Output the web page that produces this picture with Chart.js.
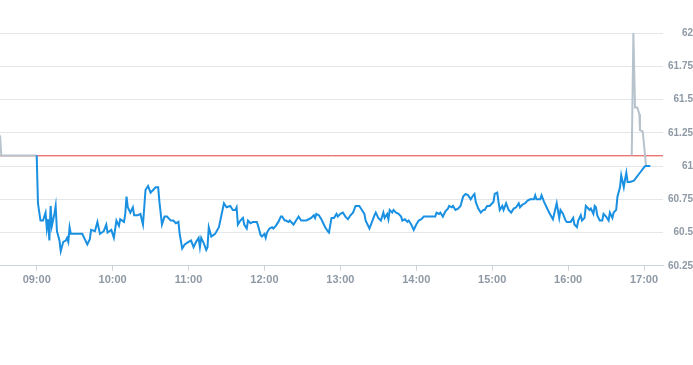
<!DOCTYPE html>
<html>
<head>
<meta charset="utf-8">
<script src="https://cdn.jsdelivr.net/npm/chart.js@4/dist/chart.umd.min.js"></script>
<style>
  html, body { margin: 0; padding: 0; background: #fff; }
  #wrap { position: relative; width: 693px; height: 365px; }
</style>
</head>
<body>
<div id="wrap"><canvas id="priceChart"></canvas></div>
<script>
// Minutes counted from the 09:00 open
const hourTicks = [0, 60, 120, 180, 240, 300, 360, 420, 480];
const hourLabels = ["09:00", "10:00", "11:00", "12:00", "13:00", "14:00", "15:00", "16:00", "17:00"];
const yTicks = [60.25, 60.5, 60.75, 61, 61.25, 61.5, 61.75, 62];

// Reference (previous close) level
const refLevel = 61.077;

// Regular session price
const blueMin = [
  0, 1, 3, 5, 7, 8, 9, 10, 11, 12, 14, 15, 16, 18, 19, 21, 23, 24, 25, 26, 27, 36, 38, 40, 42, 43, 46, 48, 50, 53,
  55, 56, 59, 61, 63, 65, 66, 69, 70, 71, 72, 74, 76, 77, 80, 82, 84, 86, 88, 90, 92, 94, 96, 97, 99, 101, 103, 106, 108, 110,
  112, 113, 115, 117, 120, 122, 124, 126, 128, 129, 130, 132, 134, 135, 136, 138, 141, 144, 146, 148, 150, 153, 155, 157, 158, 159,
  161, 163, 164, 166, 167, 169, 171, 174, 175, 177, 178, 180, 181, 182, 184, 186, 187, 189, 191, 193, 194, 196, 197, 199, 200, 202,
  203, 205, 207, 209, 211, 213, 215, 217, 219, 220, 221, 223, 225, 228, 230, 231, 233, 235, 237, 238, 240, 242, 244, 246, 248, 250,
  252, 253, 255, 257, 259, 260, 263, 265, 267, 268, 270, 272, 274, 275, 277, 278, 279, 281, 282, 284, 286, 288, 289, 291, 293, 294,
  296, 298, 300, 302, 304, 306, 308, 312, 315, 316, 318, 319, 321, 323, 325, 326, 328, 329, 331, 333, 335,
  337, 339, 341, 343, 345, 346, 347, 349, 351, 353, 354, 356, 358, 360, 361, 362, 364, 365, 366, 368, 369, 371, 373, 375, 377, 379,
  381, 382, 384, 386, 388, 390, 393, 394, 395, 398, 399, 401, 403, 405, 408, 410, 411, 413, 414, 416, 418, 419, 422, 424, 425, 427,
  428, 430, 431, 433, 434, 435, 437, 438, 440, 441, 442, 443, 445, 447, 448, 450, 452, 453, 455, 456, 458, 459, 461, 462, 464, 465,
  466, 467, 469, 472, 476, 480, 481, 485
];
const blueVal = [
  61.08, 60.72, 60.59, 60.59, 60.65, 60.53, 60.60, 60.44, 60.70, 60.55, 60.64, 60.70, 60.51, 60.44, 60.36, 60.43, 60.44, 60.46, 60.43, 60.54, 60.49, 60.49, 60.45, 60.41, 60.45, 60.52, 60.51, 60.58, 60.49, 60.51,
  60.56, 60.50, 60.52, 60.46, 60.59, 60.55, 60.60, 60.58, 60.64, 60.77, 60.69, 60.65, 60.69, 60.63, 60.63, 60.64, 60.56, 60.82, 60.85, 60.80, 60.82, 60.84, 60.84, 60.73, 60.56, 60.62, 60.62, 60.59, 60.59, 60.57,
  60.58, 60.49, 60.38, 60.41, 60.43, 60.44, 60.39, 60.43, 60.46, 60.39, 60.46, 60.42, 60.37, 60.39, 60.54, 60.47, 60.49, 60.54, 60.63, 60.72, 60.69, 60.70, 60.67, 60.67, 60.69, 60.56,
  60.59, 60.61, 60.56, 60.53, 60.59, 60.57, 60.58, 60.58, 60.55, 60.48, 60.47, 60.49, 60.46, 60.50, 60.53, 60.54, 60.53, 60.55, 60.58, 60.62, 60.62, 60.59, 60.59, 60.58, 60.59, 60.57,
  60.56, 60.59, 60.62, 60.59, 60.59, 60.59, 60.60, 60.61, 60.63, 60.61, 60.64, 60.63, 60.60, 60.54, 60.51, 60.50, 60.61, 60.61, 60.64, 60.62, 60.64, 60.65, 60.62, 60.60, 60.63, 60.65,
  60.70, 60.70, 60.70, 60.67, 60.64, 60.59, 60.53, 60.58, 60.63, 60.65, 60.61, 60.59, 60.65, 60.61, 60.64, 60.60, 60.67, 60.65, 60.67, 60.65, 60.64, 60.62, 60.59, 60.60, 60.58, 60.59,
  60.56, 60.52, 60.56, 60.59, 60.60, 60.62, 60.62, 60.62, 60.62, 60.65, 60.64, 60.65, 60.62, 60.66, 60.68, 60.70, 60.69, 60.70, 60.67, 60.68, 60.70,
  60.77, 60.79, 60.78, 60.75, 60.78, 60.79, 60.73, 60.68, 60.65, 60.67, 60.67, 60.70, 60.70, 60.72, 60.73, 60.79, 60.80, 60.73, 60.67, 60.70, 60.67, 60.72, 60.67, 60.65, 60.68, 60.69,
  60.72, 60.69, 60.71, 60.72, 60.74, 60.75, 60.75, 60.78, 60.75, 60.75, 60.78, 60.73, 60.69, 60.65, 60.60, 60.68, 60.72, 60.61, 60.67, 60.64, 60.59, 60.58, 60.58, 60.61, 60.56, 60.54,
  60.59, 60.63, 60.59, 60.61, 60.70, 60.69, 60.67, 60.68, 60.64, 60.70, 60.69, 60.63, 60.59, 60.59, 60.64, 60.62, 60.59, 60.65, 60.61, 60.65, 60.67, 60.77, 60.84, 60.93, 60.84, 60.90,
  60.95, 60.88, 60.88, 60.89, 60.94, 60.99, 61.00, 61.00
];

// Pre / after market price (null breaks the line)
const greyMin = [-29, -28, 0, 1, 470.3, 471.6, 472.9, 474.7, 476.3, 476.8, 478.9, 479.9, 480.8, 481.6];
const greyVal = [61.23, 61.08, 61.08, null, 61.08, 62.0, 61.44, 61.44, 61.39, 61.27, 61.26, 61.17, 61.08, 61.00];

const xMin = -29, xMax = 495;

function toPoints(xs, ys) {
    return xs.map((x, i) => ({ x: x, y: ys[i] }));
}

const tickColor = "#8e99a5";
const tickFont = { family: "'Liberation Sans', Arial, sans-serif", weight: "bold" };

new Chart(document.getElementById("priceChart").getContext("2d"), {
    type: "line",
    data: {
        datasets: [
            {
                data: toPoints(blueMin, blueVal),
                borderColor: "#1990e2",
                borderWidth: 2,
                pointRadius: 0,
                tension: 0
            },
            {
                data: toPoints(greyMin, greyVal),
                borderColor: "#b7c3cc",
                borderWidth: 2,
                pointRadius: 0,
                tension: 0,
                spanGaps: false
            },
            {
                data: [{ x: xMin, y: refLevel }, { x: xMax, y: refLevel }],
                borderColor: "#e0403c",
                borderWidth: 1,
                pointRadius: 0
            }
        ]
    },
    options: {
        responsive: true,
        maintainAspectRatio: false,
        animation: false,
        layout: { padding: { top: 33, left: 0, right: 0, bottom: 75 } },
        plugins: { legend: { display: false }, tooltip: { enabled: false } },
        scales: {
            x: {
                type: "linear",
                min: xMin,
                max: xMax,
                afterBuildTicks: scale => { scale.ticks = hourTicks.map(v => ({ value: v })); },
                grid: { drawOnChartArea: false, drawTicks: true, tickLength: 5, color: "#ccd3d9" },
                border: { color: "#ccd3d9" },
                ticks: {
                    color: tickColor,
                    font: Object.assign({ size: 11 }, tickFont),
                    maxRotation: 0,
                    padding: 3,
                    callback: v => hourLabels[hourTicks.indexOf(v)]
                }
            },
            y: {
                position: "right",
                min: 60.25,
                max: 62,
                afterBuildTicks: scale => { scale.ticks = yTicks.map(v => ({ value: v })); },
                afterFit: scale => { scale.width = 30; },
                grid: { color: "#e4e7ea", drawTicks: false },
                border: { display: false },
                ticks: {
                    color: tickColor,
                    font: Object.assign({ size: 10 }, tickFont),
                    padding: 5,
                    crossAlign: "far",
                    callback: v => String(Number(v.toFixed(2)))
                }
            }
        }
    }
});
</script>
</body>
</html>
